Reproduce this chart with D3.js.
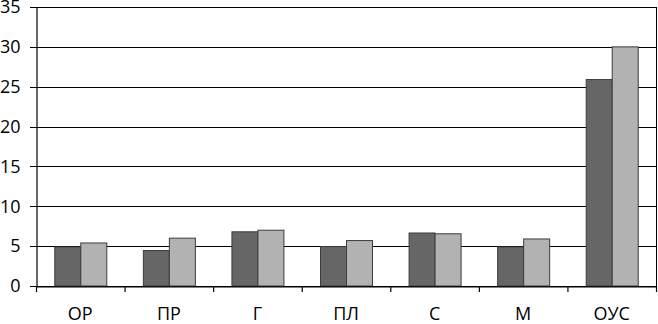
<!DOCTYPE html>
<html><head><meta charset="utf-8">
<script src="https://cdn.jsdelivr.net/npm/d3@7"></script>
<style>body{margin:0;background:#fff}svg{display:block}</style>
</head><body>
<script>
const categories = ["ОР","ПР","Г","ПЛ","С","М","ОУС"];
const series1 = [4.9, 4.45, 6.8, 4.95, 6.65, 4.9, 25.9];
const series2 = [5.4, 6.0, 7.0, 5.7, 6.55, 5.9, 30.0];
const yTicks = [0,5,10,15,20,25,30,35];
const colors = ["#666666","#b2b2b2"];

const W=658,H=324;
const x0=36,x1=656,yTop=7,yBot=286;
const svg=d3.select("body").append("svg").attr("width",W).attr("height",H);
const x=d3.scaleBand().domain(categories).range([x0,x1]).paddingInner(0).paddingOuter(0);
const y=d3.scaleLinear().domain([0,35]).range([yBot,yTop]);
const sub=d3.scaleBand().domain([0,1]).range([0,52]);
const font="'Open Sans', sans-serif";

// gridlines
svg.append("g").selectAll("line").data(yTicks).join("line")
  .attr("x1",x0-6).attr("x2",x1).attr("y1",d=>Math.round(y(d))+0.5).attr("y2",d=>Math.round(y(d))+0.5)
  .attr("stroke","#000").attr("stroke-width",1.2);
// right border
svg.append("line").attr("x1",x1+0.5).attr("x2",x1+0.5).attr("y1",Math.round(y(35))).attr("y2",yBot+1)
  .attr("stroke","#000").attr("stroke-width",1);

// bars
const groups=svg.append("g").selectAll("g").data(categories).join("g")
  .attr("transform",d=>`translate(${x(d)+x.bandwidth()/2-26},0)`);
groups.selectAll("rect").data((d,i)=>[series1[i],series2[i]]).join("rect")
  .attr("x",(v,j)=>sub(j)+0.5).attr("width",sub.bandwidth())
  .attr("y",v=>y(v)).attr("height",v=>yBot-y(v))
  .attr("fill",(v,j)=>colors[j]).attr("stroke","#3c3c3c").attr("stroke-width",1);

// y axis
const ya=svg.append("g").attr("transform",`translate(${x0+0.5},0)`)
  .call(d3.axisLeft(y).tickValues(yTicks).tickSize(0).tickPadding(16));
ya.select(".domain").attr("stroke","#000").attr("stroke-width",1.2);
ya.selectAll("text").attr("font-family",font).attr("font-size",18).attr("fill","#000");

// x axis
const xa=svg.append("g").attr("transform",`translate(0,${yBot+0.5})`)
  .call(d3.axisBottom(x).tickSize(0).tickPadding(21));
xa.select(".domain").attr("stroke","#000").attr("stroke-width",1.2);
xa.selectAll("text").attr("font-family",font).attr("font-size",18).attr("fill","#000");
// category boundary ticks
svg.append("g").selectAll("line").data(d3.range(categories.length+1)).join("line")
  .attr("x1",i=>x0+i*x.step()+0.5).attr("x2",i=>x0+i*x.step()+0.5)
  .attr("y1",yBot).attr("y2",yBot+6).attr("stroke","#000").attr("stroke-width",1.2);
</script>
</body></html>
